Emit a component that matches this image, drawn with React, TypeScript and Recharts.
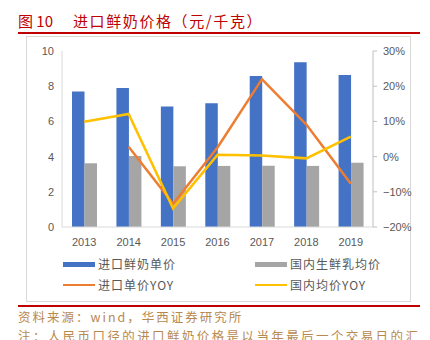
import React from 'react';
import {
  ComposedChart,
  Bar,
  Line,
  XAxis,
  YAxis,
} from 'recharts';

const years = ['2013', '2014', '2015', '2016', '2017', '2018', '2019'];
const importPrice = [7.7, 7.9, 6.85, 7.03, 8.58, 9.36, 8.64];
const domesticPrice = [3.62, 4.03, 3.45, 3.47, 3.48, 3.47, 3.65];
const importYoy = [null, 2.8, -13.4, 2.6, 22.0, 9.1, -7.7];
const domesticYoy = [9.9, 12.1, -14.7, 0.5, 0.3, -0.5, 5.7];

const leftTicks = [0, 2, 4, 6, 8, 10];
const rightTicks = [-20, -10, 0, 10, 20, 30];

const legendItems = [
  { name: '进口鲜奶单价', color: '#4472C4', bar: true },
  { name: '国内生鲜乳均价', color: '#A5A5A5', bar: true },
  { name: '进口单价YOY', color: '#ED7D31', bar: false },
  { name: '国内均价YOY', color: '#FFC000', bar: false },
];

const data = years.map((year, i) => ({
  year,
  importPrice: importPrice[i],
  domesticPrice: domesticPrice[i],
  importYoy: importYoy[i],
  domesticYoy: domesticYoy[i],
}));

const cjk = '"Noto Sans CJK SC", "Noto Sans", sans-serif';
const tickStyle = { fontSize: 11, fill: '#595959', fontFamily: '"Liberation Sans", Arial, sans-serif' };

const App: React.FC = () => {
  return (
    <div
      style={{
        position: 'fixed',
        left: 0,
        top: 0,
        width: 430,
        height: 340,
        overflow: 'hidden',
        background: '#fff',
      }}
    >
      {/* title */}
      <div
        style={{
          position: 'absolute',
          left: 18,
          top: 11,
          fontFamily: cjk,
          fontSize: 15,
          lineHeight: '20px',
          color: '#C00000',
          whiteSpace: 'nowrap',
        }}
      >
        <span>图 10</span>
        <span style={{ marginLeft: 20, letterSpacing: 1.6 }}>进口鲜奶价格（元/千克）</span>
      </div>
      <div style={{ position: 'absolute', left: 18, top: 32, width: 402, height: 2, background: '#C00000' }} />

      {/* chart frame */}
      <div
        style={{
          position: 'absolute',
          left: 26,
          top: 36,
          width: 385,
          height: 266,
          border: '1px solid #D9D9D9',
          boxSizing: 'border-box',
        }}
      />

      <div style={{ position: 'absolute', left: 0, top: 0 }}>
        <ComposedChart
          width={430}
          height={260}
          data={data}
          margin={{ top: 51, right: 12, left: 22, bottom: 13 }}
          barGap={0}
          barCategoryGap="22%"
        >
          <XAxis
            dataKey="year"
            height={20}
            tick={tickStyle}
            tickLine={false}
            tickMargin={5}
            axisLine={{ stroke: '#D9D9D9' }}
          />
          <YAxis
            yAxisId="left"
            width={40}
            domain={[0, 10]}
            ticks={leftTicks}
            tick={tickStyle}
            tickLine={false}
            axisLine={{ stroke: '#D9D9D9' }}
            interval={0}
          />
          <YAxis
            yAxisId="right"
            orientation="right"
            width={45}
            domain={[-20, 30]}
            ticks={rightTicks}
            tick={tickStyle}
            tickSize={4}
            tickMargin={6}
            tickLine={{ stroke: '#BFBFBF' }}
            axisLine={{ stroke: '#BFBFBF' }}
            tickFormatter={(v: number) => (v < 0 ? `\u2212${-v}%` : `${v}%`)}
            interval={0}
          />
          <Bar yAxisId="left" dataKey="importPrice" fill="#4472C4" barSize={12.5} isAnimationActive={false} />
          <Bar yAxisId="left" dataKey="domesticPrice" fill="#A5A5A5" barSize={12.5} isAnimationActive={false} />
          <Line
            yAxisId="right"
            type="linear"
            dataKey="importYoy"
            stroke="#ED7D31"
            strokeWidth={2.5}
            dot={false}
            isAnimationActive={false}
          />
          <Line
            yAxisId="right"
            type="linear"
            dataKey="domesticYoy"
            stroke="#FFC000"
            strokeWidth={2.5}
            dot={false}
            isAnimationActive={false}
          />
        </ComposedChart>
      </div>

      {/* legend */}
      {legendItems.map((item, i) => {
        const col = i % 2;
        const row = Math.floor(i / 2);
        const left = col === 0 ? 63 : 255;
        const cy = row === 0 ? 264 : 285;
        return (
          <div key={item.name} style={{ position: 'absolute', left, top: cy - 9, height: 18, whiteSpace: 'nowrap' }}>
            <div
              style={{
                position: 'absolute',
                left: 0,
                top: item.bar ? 7 : 8,
                width: 32,
                height: item.bar ? 5 : 2,
                background: item.color,
              }}
            />
            <span
              style={{
                position: 'absolute',
                left: 35,
                top: 0,
                fontFamily: cjk,
                fontSize: 12,
                lineHeight: '18px',
                letterSpacing: 1,
                color: '#595959',
              }}
            >
              {item.name}
            </span>
          </div>
        );
      })}

      <div style={{ position: 'absolute', left: 18, top: 305, width: 402, height: 2, background: '#C00000' }} />

      {/* source */}
      <div
        style={{
          position: 'absolute',
          left: 18,
          top: 309,
          fontFamily: cjk,
          fontSize: 12.5,
          lineHeight: '16px',
          letterSpacing: 2,
          color: '#B8894F',
          whiteSpace: 'nowrap',
        }}
      >
        资料来源：wind，华西证券研究所
      </div>
      <div
        style={{
          position: 'absolute',
          left: 18,
          top: 328,
          fontFamily: cjk,
          fontSize: 12.5,
          lineHeight: '16px',
          letterSpacing: 2.4,
          color: '#B8894F',
          whiteSpace: 'nowrap',
        }}
      >
        注：人民币口径的进口鲜奶价格是以当年最后一个交易日的汇
      </div>
    </div>
  );
};

export default App;
